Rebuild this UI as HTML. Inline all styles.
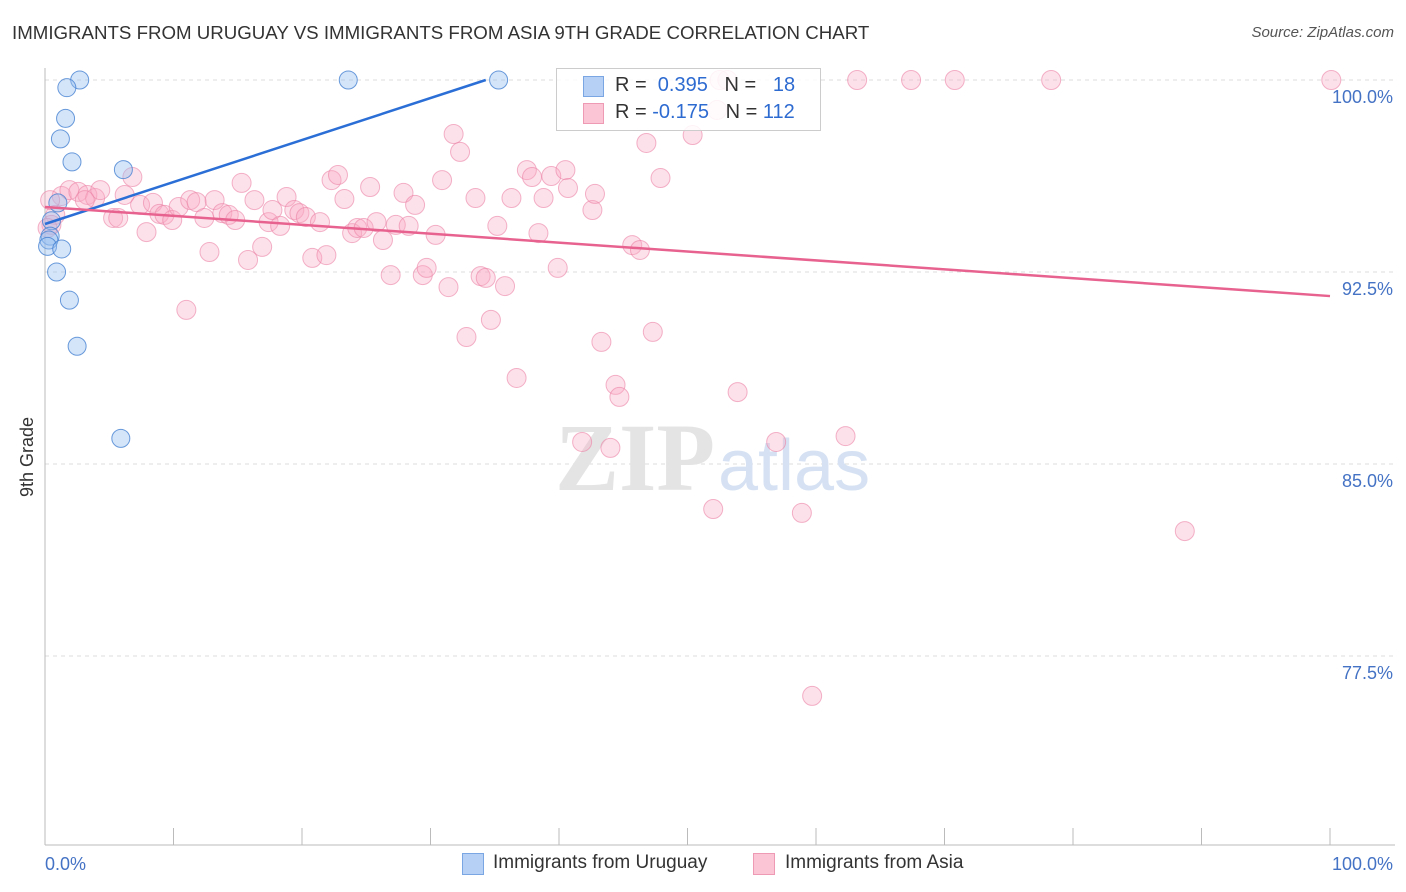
<!DOCTYPE html>
<html><head><meta charset="utf-8"><style>
body{margin:0;background:#fff;font-family:"Liberation Sans",sans-serif;}
#wrap{position:relative;width:1406px;height:892px;overflow:hidden;}
.t{position:absolute;white-space:nowrap;}
</style></head><body>
<div id="wrap">
<div class="t" style="left:12px;top:22px;font-size:18.7px;color:#333;">IMMIGRANTS FROM URUGUAY VS IMMIGRANTS FROM ASIA 9TH GRADE CORRELATION CHART</div>
<div class="t" style="right:12px;top:24px;font-size:15px;color:#555;font-style:italic;">Source: ZipAtlas.com</div>
<div class="t" style="left:17px;top:497px;font-size:18px;color:#333;transform:rotate(-90deg);transform-origin:left top;">9th Grade</div>
<svg id="svg" width="1406" height="892" style="position:absolute;left:0;top:0"></svg>
</div>
<script>
const blueX=[2.7,1.7,1.6,1.2,2.1,6.1,1.0,0.5,0.4,0.3,0.2,1.3,0.9,1.9,2.5,5.9,23.6,35.3];
const blueY=[100,99.7,98.5,97.7,96.8,96.5,95.2,94.5,93.9,93.75,93.5,93.4,92.5,91.4,89.6,86.0,100,100];
const pinkPx=[[62,196],[70,190],[78,192],[88,195],[95,198],[100,190],[85,200],[55,215],[52,225],[113,218],[118,218],[125,195],[132,177],[140,205],[146,232],[153,203],[160,214],[165,215],[172,220],[178,207],[186,310],[190,200],[196,202],[204,218],[210,252],[215,200],[222,213],[229,215],[235,220],[242,183],[248,260],[255,200],[262,247],[268,222],[273,210],[280,226],[287,197],[294,210],[300,213],[306,217],[312,258],[320,222],[326,255],[332,180],[338,175],[345,199],[352,233],[357,228],[364,228],[370,187],[376,222],[383,240],[391,275],[396,225],[404,193],[409,226],[415,205],[423,275],[427,268],[436,235],[442,180],[448,287],[453,134],[460,152],[466,337],[475,198],[480,276],[486,278],[491,320],[497,226],[505,286],[512,198],[516,378],[527,170],[532,177],[538,233],[543,198],[551,176],[558,268],[565,170],[568,188],[582,442],[592,210],[595,194],[601,342],[610,448],[615,385],[620,397],[632,245],[640,250],[647,143],[653,332],[660,178],[692,135],[713,509],[717,110],[727,80],[738,392],[776,442],[802,513],[812,696],[846,436],[857,80],[911,80],[955,80],[1051,80],[1185,531],[1331,80],[720,80],[50,200],[47,228]];
const pinkX=pinkPx.map(p=>+((p[0]-45)/12.85).toFixed(1));
const pinkY=pinkPx.map(p=>+(100-(p[1]-80)/25.6).toFixed(2));
const yTicks=[100,92.5,85,77.5];
const yTickLabels=["100.0%","92.5%","85.0%","77.5%"];
const blueTrend=[94.375,0.164];
const pinkTrend=[95.04,-0.0348];

const X0=45,X1=1330,YTOP=80;
const sx=v=>X0+(X1-X0)*v/100;
const sy=v=>YTOP+(100-v)*25.6;
const svg=document.getElementById('svg');
const NS='http://www.w3.org/2000/svg';
function mk(tag,attrs){const e=document.createElementNS(NS,tag);for(const k in attrs)e.setAttribute(k,attrs[k]);svg.appendChild(e);return e;}

yTicks.forEach((v,i)=>{
 const g=mk('line',{x1:X0,x2:1395,y1:sy(v),y2:sy(v),stroke:'#ddd','stroke-dasharray':'4,4'});
 
 
 const t=mk('text',{x:1393,y:sy(v)+23,'text-anchor':'end','font-size':18,fill:'#4472c4','font-family':'Liberation Sans, sans-serif'});
 t.textContent=yTickLabels[i];
 
 
});
const ax=mk('line',{x1:X0,x2:X0,y1:68,y2:845,stroke:'#bbb'});


const bx=mk('line',{x1:X0,x2:1395,y1:845,y2:845,stroke:'#bbb'});


for(let i=0;i<=10;i++){const x=X0+(X1-X0)*i/10;const tk=mk('line',{x1:x,x2:x,y1:828,y2:845,stroke:'#bbb'});
 
 }
[[45,'start','0.0%'],[1393,'end','100.0%']].forEach(a=>{const t=mk('text',{x:a[0],y:870,'text-anchor':a[1],'font-size':18,fill:'#4472c4','font-family':'Liberation Sans, sans-serif'});t.textContent=a[2];
 
 });

const w1=mk('text',{x:555,y:490,'font-size':96,fill:'#e4e4e4','font-family':'Liberation Serif, serif','font-weight':'bold'});w1.textContent='ZIP';


const w2=mk('text',{x:718,y:490,'font-size':72,fill:'#d6e2f3','font-family':'Liberation Sans, sans-serif'});w2.textContent='atlas';



pinkX.forEach((x,i)=>{const c=mk('circle',{cx:sx(x),cy:sy(pinkY[i]),r:9.5,fill:'rgba(248,170,195,0.35)',stroke:'rgba(235,130,165,0.6)','stroke-width':1});
 
 });
blueX.forEach((x,i)=>{const c=mk('circle',{cx:sx(x),cy:sy(blueY[i]),r:9,fill:'rgba(150,190,240,0.4)',stroke:'rgba(70,130,210,0.8)','stroke-width':1});
 
 });
const bxEnd=(100-blueTrend[0])/blueTrend[1];
const bl=mk('line',{x1:sx(0),y1:sy(blueTrend[0]),x2:sx(bxEnd),y2:sy(100),stroke:'#2b6fd6','stroke-width':2.5});


const pl=mk('line',{x1:sx(0),y1:sy(pinkTrend[0]),x2:sx(100),y2:sy(pinkTrend[0]+100*pinkTrend[1]),stroke:'#e8628f','stroke-width':2.5});


</script>
<div class="t" style="left:556px;top:68px;width:263px;height:61px;border:1px solid #ccc;background:rgba(255,255,255,0.85);">
 <div class="t" style="left:26px;top:7px;width:19px;height:19px;background:#b5cff5;border:1px solid #7aa6e3;"></div>
 <div class="t" style="left:58px;top:5px;font-size:20px;color:#333;">R = &nbsp;<span style="color:#2e6bd1">0.395</span> &nbsp; N = &nbsp; <span style="color:#2e6bd1">18</span></div>
 <div class="t" style="left:26px;top:34px;width:19px;height:19px;background:#fbc5d5;border:1px solid #ee9ab4;"></div>
 <div class="t" style="left:58px;top:32px;font-size:20px;color:#333;">R = <span style="color:#2e6bd1">-0.175</span> &nbsp; N = <span style="color:#2e6bd1">112</span></div>
</div>
<div class="t" style="left:462px;top:853px;width:20px;height:20px;background:#b5cff5;border:1px solid #7aa6e3;"></div>
<div class="t" style="left:493px;top:852px;font-size:19px;color:#333;">Immigrants from Uruguay</div>
<div class="t" style="left:753px;top:853px;width:20px;height:20px;background:#fbc5d5;border:1px solid #ee9ab4;"></div>
<div class="t" style="left:785px;top:852px;font-size:19px;color:#333;">Immigrants from Asia</div>
</body></html>
